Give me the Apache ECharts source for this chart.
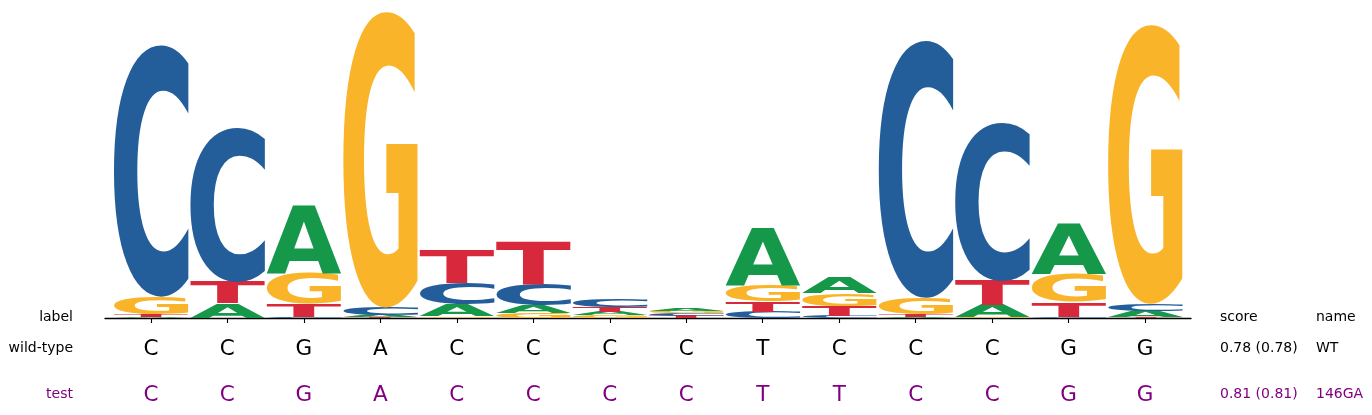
<!DOCTYPE html>
<html>
<head>
<meta charset="utf-8">
<script src="https://cdn.jsdelivr.net/npm/echarts@6/dist/echarts.min.js"></script>
<style>
html,body{margin:0;padding:0;background:#fff;}
#chart{width:1372px;height:415px;}
</style>
</head>
<body>
<div id="chart"></div>
<script>
// ---- data (heights in bits per position) ----
const positions = [0,1,2,3,4,5,6,7,8,9,10,11,12,13];
const valA = [0.005,0.090,0.434,0.013,0.075,0.048,0.021,0.019,0.368,0.101,0.008,0.079,0.323,0.039];
const valC = [1.628,0.996,0.005,0.048,0.139,0.135,0.050,0.015,0.041,0.013,1.666,1.022,0.008,0.045];
const valG = [0.112,0.003,0.198,1.914,0.010,0.030,0.019,0.016,0.105,0.080,0.106,0.005,0.181,1.805];
const valT = [0.019,0.139,0.086,0.005,0.213,0.274,0.032,0.014,0.066,0.066,0.014,0.157,0.095,0.006];
const letters = ['A','C','G','T'];
const wildTypeSeq = ['C','C','G','A','C','C','C','C','T','C','C','C','G','G'];
const testSeq     = ['C','C','G','A','C','C','C','C','T','T','C','C','G','G'];
const rowLabels = ['label','wild-type','test'];
const scoreCol = ['score','0.78 (0.78)','0.81 (0.81)'];
const nameCol = ['name','WT','146GA'];

// ---- style ----
const COLORS = {A:'#16984a', C:'#235e9b', G:'#f9b42a', T:'#d8283b'};
const PURPLE = '#800080';
const FONT = 'bold 200px "DejaVu Sans"';
const GW = 0.98;

// glyph ink metrics for stretching letters to their boxes
const mctx = document.createElement('canvas').getContext('2d');
mctx.font = FONT; mctx.textBaseline = 'middle'; mctx.textAlign = 'left';
const metrics = {};
letters.forEach(ch => {
  const m = mctx.measureText(ch);
  metrics[ch] = {L:m.actualBoundingBoxLeft, R:m.actualBoundingBoxRight, A:m.actualBoundingBoxAscent, D:m.actualBoundingBoxDescent};
});

// stack: smallest at bottom
const vals = {A:valA, C:valC, G:valG, T:valT};
const stackData = [];
positions.forEach(p => {
  const items = letters.map((ch,k) => ({k, v: vals[ch][p]})).sort((a,b) => a.v - b.v);
  let base = 0;
  items.forEach(it => { stackData.push([p, it.k, base, base + it.v]); base += it.v; });
});

const chart = echarts.init(document.getElementById('chart'));
const ticks = positions.slice();
const txt = (x, y, s, color, align) => ({type:'text', x, y, style:{text:s, fill:color, font:'14px "DejaVu Sans"', align, verticalAlign:'middle'}, silent:true});

chart.setOption({
  animation:false,
  backgroundColor:'#fff',
  grid:{left:105, right:181, top:8, bottom:97},
  xAxis:[
    {type:'value', min:-0.6, max:13.6, position:'bottom',
     axisLine:{show:true, lineStyle:{color:'#000', width:1.3}},
     axisTick:{show:true, customValues:ticks, length:5, lineStyle:{color:'#000', width:1.1}},
     axisLabel:{show:false}, splitLine:{show:false}},
    {type:'value', min:-0.6, max:13.6, position:'bottom', gridIndex:0,
     axisLine:{show:false}, axisTick:{show:false}, splitLine:{show:false},
     axisLabel:{show:true, customValues:ticks, margin:31, verticalAlign:'middle',
       formatter:v => wildTypeSeq[Math.round(v)] || '', fontSize:21.5, fontFamily:'DejaVu Sans', color:'#000'}},
    {type:'value', min:-0.6, max:13.6, position:'bottom', gridIndex:0,
     axisLine:{show:false}, axisTick:{show:false}, splitLine:{show:false},
     axisLabel:{show:true, customValues:ticks, margin:77, verticalAlign:'middle',
       formatter:v => testSeq[Math.round(v)] || '', fontSize:21.5, fontFamily:'DejaVu Sans', color:PURPLE}}
  ],
  yAxis:{type:'value', min:0, max:2, show:false},
  series:[{
    type:'custom', xAxisIndex:0, yAxisIndex:0, silent:true,
    data:stackData,
    renderItem:(params, api) => {
      const x = api.value(0), ch = letters[api.value(1)], y0 = api.value(2), y1 = api.value(3);
      const tl = api.coord([x - GW/2, y1]);
      const br = api.coord([x + GW/2, y0]);
      const w = br[0]-tl[0], h = br[1]-tl[1];
      const m = metrics[ch];
      const sx = w/(m.L+m.R), sy = h/(m.A+m.D);
      return {type:'text', x: tl[0] + m.L*sx, y: tl[1] + m.A*sy, scaleX:sx, scaleY:sy,
        style:{text:ch, font:FONT, fill:COLORS[ch], align:'left', verticalAlign:'middle'}};
    }
  }],
  graphic:[
    txt(73, 317, rowLabels[0], '#000', 'right'),
    txt(73, 348, rowLabels[1], '#000', 'right'),
    txt(73, 394, rowLabels[2], PURPLE, 'right'),
    txt(1220, 317, scoreCol[0], '#000', 'left'),
    txt(1220, 348, scoreCol[1], '#000', 'left'),
    txt(1220, 394, scoreCol[2], PURPLE, 'left'),
    txt(1316, 317, nameCol[0], '#000', 'left'),
    txt(1316, 348, nameCol[1], '#000', 'left'),
    txt(1316, 394, nameCol[2], PURPLE, 'left')
  ]
});
</script>
</body>
</html>
